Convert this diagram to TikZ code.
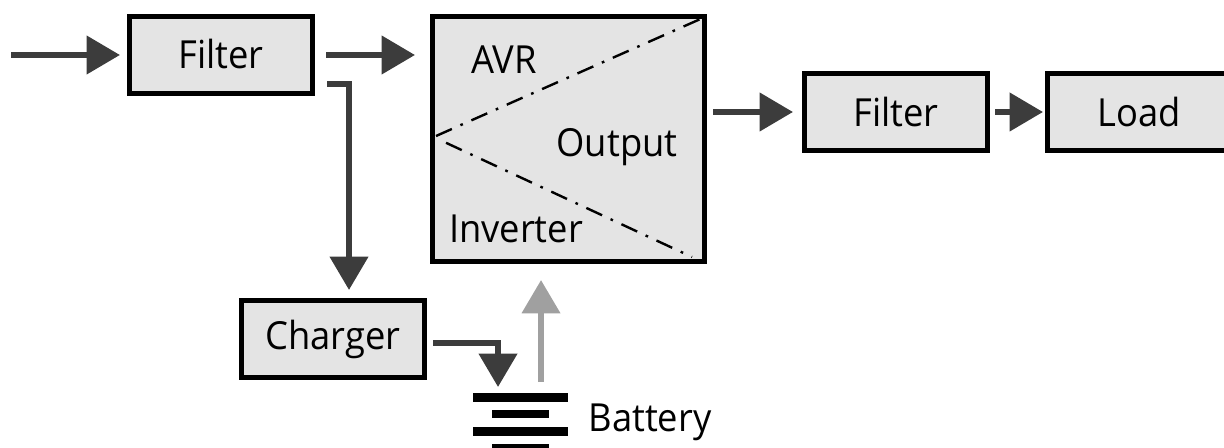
\documentclass[tikz,border=0pt]{standalone}
\usepackage{fontspec}
\setmainfont[FakeStretch=0.94]{Open Sans}
\usetikzlibrary{positioning,arrows.meta}
\definecolor{boxfill}{HTML}{E4E4E4}
\definecolor{linedark}{HTML}{3C3C3C}
\definecolor{linegrey}{HTML}{A0A0A0}
\tikzset{
	block/.style={draw=black,line width=3.4pt,fill=boxfill,inner sep=0pt,font=\fontsize{29}{29}\selectfont},
	flow/.style={draw=linedark,line width=4.6pt,-{Triangle[length=25pt,width=28pt]}},
	plate/.style={fill=black,inner sep=0pt,minimum height=6.5pt},
	label/.style={inner sep=0pt,font=\fontsize{29}{29}\selectfont},
	split/.style={line width=1.8pt,dash pattern=on 13pt off 7pt on 2pt off 7pt}
}
\begin{document}
\begin{tikzpicture}[x=1pt,y=-1pt,scale=0.75]
	\useasboundingbox (0,0) rectangle (1224,448);
	\node[block,minimum width=137pt,minimum height=58pt] (filterA) at (221,55) {\raisebox{2pt}{Filter}};
	\node[block,minimum width=204pt,minimum height=184pt] (ups) at (568.5,139) {};
	\node[block,minimum width=137pt,minimum height=58pt] (filterB) at (896,112) {Filter};
	\node[block,minimum width=137pt,minimum height=58pt] (load) at (1139,112) {Load};
	\node[block,minimum width=137pt,minimum height=58pt] (charger) at (333,339) {\raisebox{-2pt}{Charger}};
	\node[label] (avr) at (504,60) {AVR};
	\node[label] (output) at (617,147) {Output};
	\node[label] (inverter) at (516,229) {Inverter};
	\node[plate,minimum width=71pt] (plateA) at (520.5,397.5) {};
	\node[plate,minimum width=43pt] (plateB) at (520.5,414) {};
	\node[plate,minimum width=71pt] (plateC) at (520.5,431.5) {};
	\node[plate,minimum width=43pt] (plateD) at (520.5,448) {};
	\node[label] (battery) at (650,422) {Battery};
	\coordinate (inA) at (11,55);
	\coordinate (tipA) at (120,55);
	\coordinate (outA) at (326,55);
	\coordinate (tipUps) at (415,55);
	\coordinate (tap) at (327,84);
	\coordinate (bendCh) at (349,84);
	\coordinate (tipCh) at (349,290);
	\coordinate (feed) at (433,343);
	\coordinate (bendBat) at (498,343);
	\coordinate (tipBat) at (498,387);
	\coordinate (gridA) at (541,382);
	\coordinate (gridB) at (541,280);
	\coordinate (outUps) at (713,112);
	\coordinate (tipOut) at (793,112);
	\coordinate (outB) at (995,112);
	\coordinate (tipLoad) at (1043,112);
	\coordinate (splitN) at (705,17);
	\coordinate (splitNw) at (436,136);
	\coordinate (splitS) at (692,257);
	\coordinate (splitSw) at (440,140);
	\draw[split] (splitNw) -- (splitN);
	\draw[split,dash phase=24pt] (splitSw) -- (splitS);
	\draw[flow] (inA) -- (tipA);
	\draw[flow] (outA) -- (tipUps);
	\draw[flow] (outUps) -- (tipOut);
	\draw[flow] (outB) -- (tipLoad);
	\draw[flow] (tap) -- (bendCh) -- (tipCh);
	\draw[flow] (feed) -- (bendBat) -- (tipBat);
	\draw[flow,draw=linegrey] (gridA) -- (gridB);
\end{tikzpicture}
\end{document}
